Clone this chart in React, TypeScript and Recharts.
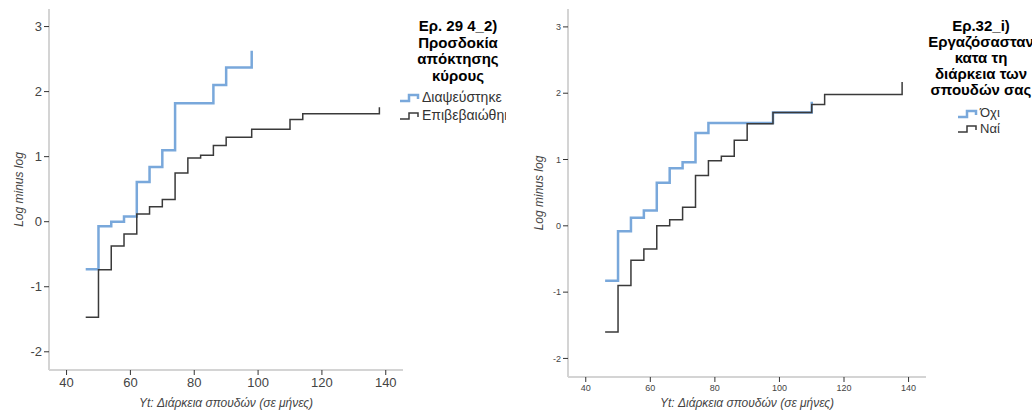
import React from 'react';
import { LineChart, Line, XAxis, YAxis, Label } from 'recharts';

// Panel 1: Ερ. 29 4_2) Προσδοκία απόκτησης κύρους
const p1Refuted = [
  { x: 46, y: -0.73 }, { x: 50, y: -0.07 }, { x: 54, y: 0.0 }, { x: 58, y: 0.08 },
  { x: 62, y: 0.61 }, { x: 66, y: 0.84 }, { x: 70, y: 1.1 }, { x: 74, y: 1.82 },
  { x: 86, y: 2.1 }, { x: 90, y: 2.37 }, { x: 98, y: 2.63 },
];
const p1Confirmed = [
  { x: 46, y: -1.47 }, { x: 50, y: -0.74 }, { x: 54, y: -0.375 }, { x: 58, y: -0.19 },
  { x: 62, y: 0.12 }, { x: 66, y: 0.23 }, { x: 70, y: 0.34 }, { x: 74, y: 0.75 },
  { x: 78, y: 0.98 }, { x: 82, y: 1.02 }, { x: 86, y: 1.17 }, { x: 90, y: 1.3 },
  { x: 98, y: 1.42 }, { x: 110, y: 1.57 }, { x: 114, y: 1.66 }, { x: 138, y: 1.76 },
];

// Panel 2: Ερ.32_i) Εργαζόσασταν κατα τη διάρκεια των σπουδών σας
const p2No = [
  { x: 46, y: -0.83 }, { x: 50, y: -0.08 }, { x: 54, y: 0.12 }, { x: 58, y: 0.23 },
  { x: 62, y: 0.65 }, { x: 66, y: 0.87 }, { x: 70, y: 0.96 }, { x: 74, y: 1.4 },
  { x: 78, y: 1.55 }, { x: 98, y: 1.71 }, { x: 110, y: 1.87 },
];
const p2Yes = [
  { x: 46, y: -1.6 }, { x: 50, y: -0.9 }, { x: 54, y: -0.52 }, { x: 58, y: -0.35 },
  { x: 62, y: 0.0 }, { x: 66, y: 0.09 }, { x: 70, y: 0.28 }, { x: 74, y: 0.76 },
  { x: 78, y: 0.98 }, { x: 82, y: 1.05 }, { x: 86, y: 1.29 }, { x: 90, y: 1.54 },
  { x: 98, y: 1.71 }, { x: 110, y: 1.83 }, { x: 114, y: 1.98 }, { x: 138, y: 2.17 },
];

const xTicks = [40, 60, 80, 100, 120, 140];
const yTicks = [-2, -1, 0, 1, 2, 3];
const p1Title = ['Ερ. 29 4_2)', 'Προσδοκία', 'απόκτησης', 'κύρους'];
const p1Labels = ['Διαψεύστηκε', 'Επιβεβαιώθηκε'];
const p2Title = ['Ερ.32_i)', 'Εργαζόσασταν', 'κατα τη', 'διάρκεια των', 'σπουδών σας'];
const p2Labels = ['Όχι', 'Ναί'];

const BLUE = '#79a8db';
const DARK = '#3a3a3a';
const FONT = '"Liberation Sans", Arial, sans-serif';

const StepIcon = ({ color, w }: { color: string; w: number }) => (
  <svg width={22} height={12} style={{ verticalAlign: 'middle', marginRight: 1 }}>
    <path d="M1,9 H10 V3 H19 V7" fill="none" stroke={color} strokeWidth={w} />
  </svg>
);

const LegendBox = ({ left, top, title, labels, center, itemLeft, titleLH, itemTop, itemLH, itemSize, clip }: any) => (
  <div style={{ position: 'absolute', left, top: 0, width: clip - left, height: 200, overflow: 'hidden', fontFamily: FONT }}>
    <div
      style={{
        position: 'absolute',
        left: center - left - 70,
        width: 140,
        top,
        textAlign: 'center',
        fontWeight: 'bold',
        fontSize: 15,
        lineHeight: `${titleLH}px`,
        color: '#000',
        whiteSpace: 'nowrap',
      }}
    >
      {title.map((t: string) => (
        <div key={t}>{t}</div>
      ))}
    </div>
    <div style={{ position: 'absolute', left: itemLeft - left, top: itemTop, fontSize: itemSize, color: '#333', whiteSpace: 'nowrap' }}>
      {labels.map((l: string, i: number) => (
        <div key={l} style={{ height: itemLH, lineHeight: `${itemLH}px` }}>
          <StepIcon color={i === 0 ? BLUE : DARK} w={i === 0 ? 2.5 : 1.5} />
          {l}
        </div>
      ))}
    </div>
  </div>
);

const Panel = ({ a, b, tickSize, bottom, right, yW }: any) => (
  <LineChart width={520} height={417} margin={{ top: 9, right, bottom: 0, left: 0 }}>
    <XAxis
      type="number"
      dataKey="x"
      domain={[34.5, 145.4]}
      ticks={xTicks}
      allowDataOverflow
      height={bottom}
      stroke="#d4d4d4"
      strokeWidth={2}
      tickSize={5}
      tickMargin={3}
      tickLine={{ stroke: '#333', strokeWidth: 1 }}
      tick={{ fill: '#444', fontSize: tickSize, fontFamily: FONT }}
    >
      <Label
        value="Yt: Διάρκεια σπουδών (σε μήνες)"
        position="insideBottom"
        offset={10}
        style={{ fontStyle: 'italic', fontSize: 12, fill: '#444', fontFamily: FONT }}
      />
    </XAxis>
    <YAxis
      type="number"
      dataKey="y"
      domain={[-2.28, 3.27]}
      ticks={yTicks}
      allowDataOverflow
      width={yW}
      stroke="#d4d4d4"
      strokeWidth={2}
      tickSize={5}
      tickMargin={2}
      tickLine={{ stroke: '#333', strokeWidth: 1 }}
      tick={{ fill: '#444', fontSize: tickSize, fontFamily: FONT }}
    >
      <Label
        value="Log minus log"
        angle={-90}
        position="center"
        dx={-(yW / 2 - 19)}
        style={{ fontStyle: 'italic', fontSize: 12, fill: '#444', fontFamily: FONT, textAnchor: 'middle' }}
      />
    </YAxis>
    <Line data={a} dataKey="y" type="stepAfter" stroke={BLUE} strokeWidth={2.5} dot={false} isAnimationActive={false} />
    <Line data={b} dataKey="y" type="stepAfter" stroke={DARK} strokeWidth={1.5} dot={false} isAnimationActive={false} />
  </LineChart>
);

export default function App() {
  return (
    <div style={{ position: 'absolute', left: 0, top: 0, width: 1032, height: 417, overflow: 'hidden', background: '#fff' }}>
      <div style={{ position: 'absolute', left: 0, top: 0 }}>
        <Panel a={p1Refuted} b={p1Confirmed} tickSize={13} bottom={47} right={117} yW={49} />
      </div>
      <div style={{ position: 'absolute', left: 520, top: 0 }}>
        <Panel a={p2No} b={p2Yes} tickSize={9} bottom={40} right={114} yW={48} />
      </div>
      <LegendBox left={396} top={18} title={p1Title} labels={p1Labels} center={458} itemLeft={399} titleLH={16.5} itemTop={88} itemLH={18} itemSize={14} clip={506} />
      <LegendBox left={900} top={18} title={p2Title} labels={p2Labels} center={981} itemLeft={957} titleLH={16} itemTop={105} itemLH={15.5} itemSize={13} clip={1032} />
    </div>
  );
}
